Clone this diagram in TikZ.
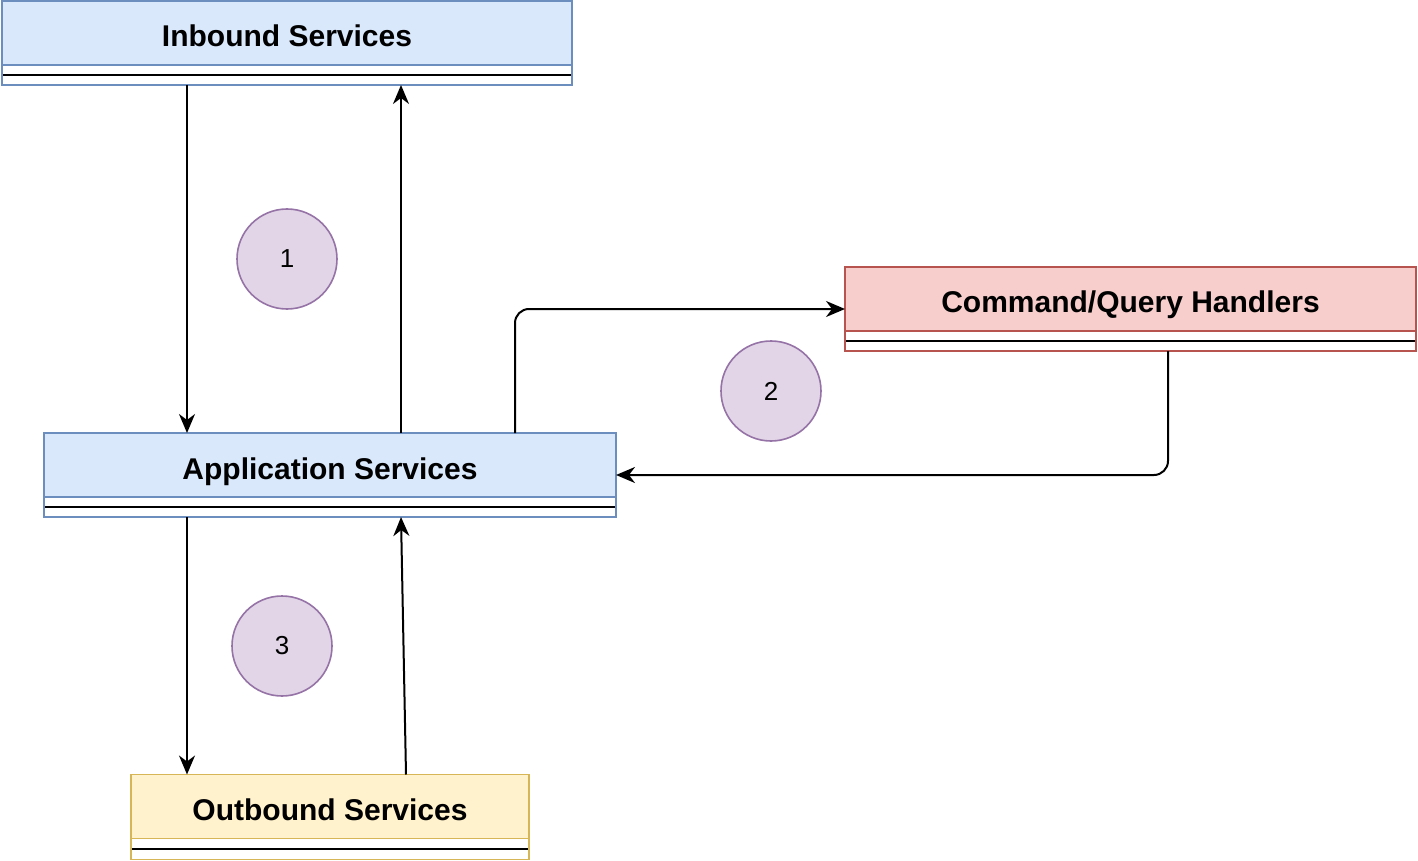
\documentclass[tikz,border=0pt]{standalone}
\usepackage{fontspec}
\setmainfont{Liberation Sans}
\usepackage{tikz}
\usetikzlibrary{arrows.meta, positioning, shapes}

\definecolor{bluefill}{HTML}{DAE8FC}
\definecolor{blueline}{HTML}{6C8EBF}
\definecolor{redfill}{HTML}{F8CECC}
\definecolor{redline}{HTML}{B85450}
\definecolor{yellowfill}{HTML}{FFF2CC}
\definecolor{yellowline}{HTML}{D6B656}
\definecolor{purplefill}{HTML}{E1D5E7}
\definecolor{purpleline}{HTML}{9673A6}

\tikzset{
	layer/.style={draw, line width=0.8pt, outer sep=0pt, inner sep=0pt, minimum height=32pt,
		text height=14pt, text depth=0pt, font=\fontsize{15}{18}\selectfont\bfseries},
	strip/.style={draw, fill=white, line width=0.8pt, outer sep=0pt, inner sep=0pt, minimum height=10pt,
		path picture={\draw [line width=1.3pt, black] (path picture bounding box.west) -- (path picture bounding box.east);}},
	stepno/.style={draw=purpleline, fill=purplefill, circle, line width=0.8pt, minimum size=50pt,
		font=\fontsize{13}{15}\selectfont},
	flow/.style={draw, line width=1pt, rounded corners=7pt, -{Stealth[length=9.5pt, width=8pt, inset=3pt]}}
}

\begin{document}
\begin{tikzpicture}[x=0.5pt, y=-0.5pt]

\useasboundingbox (0,0) rectangle (1418,861);

% top level
\node [layer, fill=bluefill, draw=blueline, minimum width=285pt] (inb) at (287,33) {Inbound Services};
\node [strip, draw=blueline, minimum width=285pt, below=0pt of inb] (inbs) {};

% middle level
\node [layer, fill=bluefill, draw=blueline, minimum width=286pt] (app) at (330,465) {Application Services};
\node [strip, draw=blueline, minimum width=286pt, below=0pt of app] (apps) {};

\node [layer, fill=redfill, draw=redline, minimum width=285.5pt] (cmd) at (1130.5,299) {Command/Query Handlers};
\node [strip, draw=redline, minimum width=285.5pt, below=0pt of cmd] (cmds) {};

% bottom level
\node [layer, fill=yellowfill, draw=yellowline, minimum width=199pt] (outb) at (330,806.5) {Outbound Services};
\node [strip, draw=yellowline, minimum width=199pt, minimum height=10.5pt, below=0pt of outb] (outbs) {};

% steps
\node [stepno] (one)   at (287,259) {1};
\node [stepno] (two)   at (771,391) {2};
\node [stepno] (three) at (282,646) {3};

% connectors
\path [flow] ([xshift=92.5pt]inbs.south west) -- ([xshift=71.5pt]app.north west);
\path [flow] ([xshift=178.5pt]app.north west) -- ([xshift=199.5pt]inbs.south west);

\path [flow] ([xshift=235.5pt]app.north west) |- ([yshift=-5pt]cmd.west);
\path [flow] ([xshift=161.5pt]cmds.south west) |- ([yshift=-5pt]app.east);

\path [flow] ([xshift=71.5pt]apps.south west) -- ([xshift=28pt]outb.north west);
\path [flow] ([xshift=137.5pt]outb.north west) -- ([xshift=178.5pt]apps.south west);

\end{tikzpicture}
\end{document}
